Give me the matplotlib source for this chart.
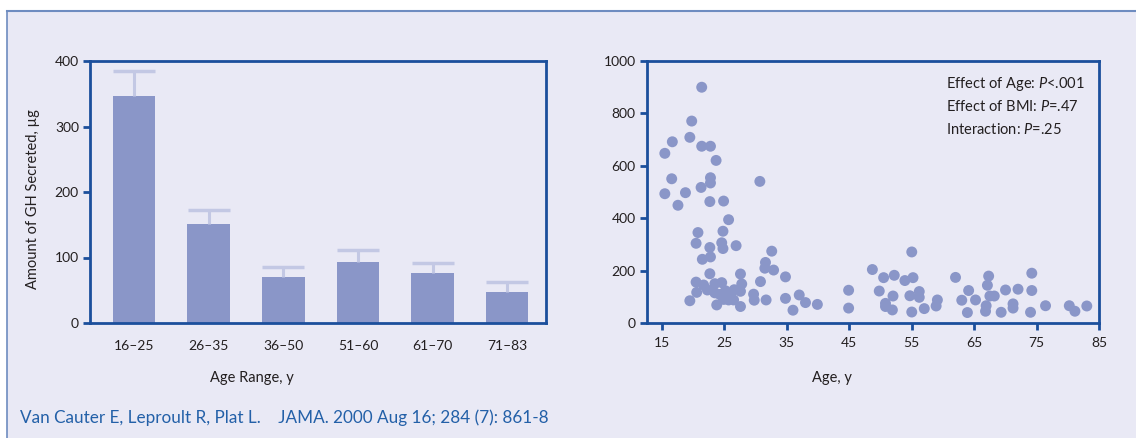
import matplotlib
matplotlib.use('Agg')
import matplotlib.pyplot as plt
from matplotlib.patches import Rectangle
from matplotlib.lines import Line2D

# fonts: Lato is the closest match to the Gill Sans look of the original
plt.rcParams['font.family'] = ['Lato', 'DejaVu Sans']
plt.rcParams['mathtext.fontset'] = 'custom'
plt.rcParams['mathtext.rm'] = 'Lato'
plt.rcParams['mathtext.it'] = 'Lato:italic'

# data: bar chart (mean and upper end of error bar)
age_groups = ['16–25', '26–35', '36–50', '51–60', '61–70', '71–83']
gh_mean = [346, 151, 70, 93, 76, 47]
gh_upper = [385, 172, 85, 111, 91, 62]

# data: scatter, age vs GH secreted
ages = [21.4, 19.8, 16.7, 19.5, 15.5, 21.4, 22.8, 23.7, 16.6, 15.5,
        18.8, 17.6, 21.3, 22.8, 22.8, 22.7, 24.9, 30.7, 25.7, 20.8,
        24.8, 20.5, 24.6, 22.7, 24.8, 26.9, 32.6, 21.5, 22.8, 31.6,
        31.5, 32.9, 22.7, 27.6, 34.8, 20.5, 21.7, 23.5, 24.6, 27.8,
        30.8, 20.6, 22.3, 23.5, 25.2, 26.0, 27.6, 29.7, 19.5, 23.8,
        25.7, 26.5, 24.9, 27.6, 29.8, 31.7, 34.8, 36.0, 37.0, 38.0,
        39.9, 25.5, 26.6, 24.3,
        44.9, 44.9, 48.7, 50.5, 52.2, 49.8, 52.0, 50.8, 50.8, 51.9,
        53.9, 55.0, 55.2, 54.7, 56.2, 56.2, 55.0, 57.0, 59.1, 58.9,
        62.0, 63.0, 64.1, 63.9, 65.2, 67.3, 67.1, 67.5, 68.2, 66.9,
        66.8, 69.3, 70.0, 71.2, 71.2, 72.0, 74.2, 74.2, 74.0, 76.4,
        80.2, 81.1, 83.0]
gh_values = [900, 771, 692, 709, 648, 675, 675, 621, 551, 494,
             498, 450, 518, 555, 535, 464, 466, 541, 395, 346,
             351, 305, 307, 289, 285, 296, 275, 244, 253, 232,
             210, 203, 189, 188, 177, 157, 146, 151, 155, 150,
             159, 118, 127, 116, 124, 112, 122, 111, 86, 70,
             89, 89, 91, 64, 88, 89, 95, 50, 108, 79,
             72, 105, 128, 110,
             126, 58, 205, 174, 183, 123, 104, 76, 64, 51,
             163, 272, 174, 105, 121, 99, 43, 56, 89, 66,
             175, 88, 125, 41, 89, 180, 145, 104, 104, 67,
             46, 42, 127, 74, 58, 130, 191, 125, 42, 67,
             67, 46, 66]

annotation = ['Effect of Age: $\\mathit{P}$<.001',
              'Effect of BMI: $\\mathit{P}$=.47',
              'Interaction: $\\mathit{P}$=.25']
citation = 'Van Cauter E, Leproult R, Plat L.    JAMA. 2000 Aug 16; 284 (7): 861-8'

BG = '#E9E9F5'
SPINE = '#1B4F9C'
BAR = '#8A96C8'
ERR = '#C3C8E4'
TXT = '#231F20'
FRAME = '#6E8CC0'
CITE = '#2360A8'

W, H = 1136, 438
fig = plt.figure(figsize=(W / 100, H / 100), dpi=100, facecolor='white')

# lavender panel with a thin blue frame at the top and left
fig.patches.append(Rectangle((7 / W, 0), 1, 1 - 11 / H, transform=fig.transFigure,
                             facecolor=BG, edgecolor='none', zorder=-2))
fig.lines.append(Line2D([7 / W, 7 / W], [0, 1 - 11 / H], transform=fig.transFigure,
                        color=FRAME, lw=1.2, zorder=-1))
fig.lines.append(Line2D([7 / W, 1], [1 - 11 / H, 1 - 11 / H], transform=fig.transFigure,
                        color=FRAME, lw=1.5, zorder=-1))


def style_axes(ax):
    ax.set_facecolor('none')
    for sp in ax.spines.values():
        sp.set_color(SPINE)
        sp.set_linewidth(2)
    ax.tick_params(length=5, width=2, color=SPINE, labelsize=10, labelcolor=TXT, pad=3)


# left: bar chart
ax1 = fig.add_axes([90 / W, 1 - 323 / H, 456 / W, 262 / H])
style_axes(ax1)
xpos = range(len(age_groups))
ax1.bar(xpos, gh_mean, width=0.57, color=BAR, zorder=2)
err = [u - m for u, m in zip(gh_upper, gh_mean)]
eb = ax1.errorbar(xpos, gh_mean, yerr=[[0] * len(err), err], fmt='none', ecolor=ERR,
                  elinewidth=2.2, capsize=15, capthick=2.5, zorder=3)
# only the upper cap is shown
eb[1][0].set_visible(False)
ax1.set_xlim(-0.59, 5.52)
ax1.set_ylim(0, 400)
ax1.set_yticks(range(0, 401, 100))
ax1.set_xticks(list(xpos))
ax1.set_xticklabels(age_groups)
ax1.tick_params(axis='x', length=0, pad=12)

# right: scatter
ax2 = fig.add_axes([646.7 / W, 1 - 323.3 / H, 452.6 / W, 262.3 / H])
style_axes(ax2)
ax2.scatter(ages, gh_values, s=62, color=BAR, edgecolors='none', zorder=3, clip_on=False)
ax2.set_xlim(12.6, 85)
ax2.set_ylim(0, 1000)
ax2.set_xticks(range(15, 86, 10))
ax2.set_yticks(range(0, 1001, 200))
ax2.tick_params(axis='x', pad=5)

for i, line in enumerate(annotation):
    fig.text(946 / W, 1 - (84 + i * 22.5) / H, line, fontsize=10.5, color=TXT, va='center')

# axis labels placed as in the original
fig.text(33 / W, 1 - 199 / H, 'Amount of GH Secreted, µg', rotation=90, fontsize=10.5,
         color=TXT, ha='center', va='center')
fig.text(252 / W, 1 - 378 / H, 'Age Range, y', fontsize=10.5, color=TXT, ha='center', va='center')
fig.text(832 / W, 1 - 378 / H, 'Age, y', fontsize=10.5, color=TXT, ha='center', va='center')

fig.text(20 / W, 1 - 418 / H, citation, fontsize=12.3, color=CITE, ha='left', va='center')

fig.savefig('out.png', dpi=100, facecolor='white')
